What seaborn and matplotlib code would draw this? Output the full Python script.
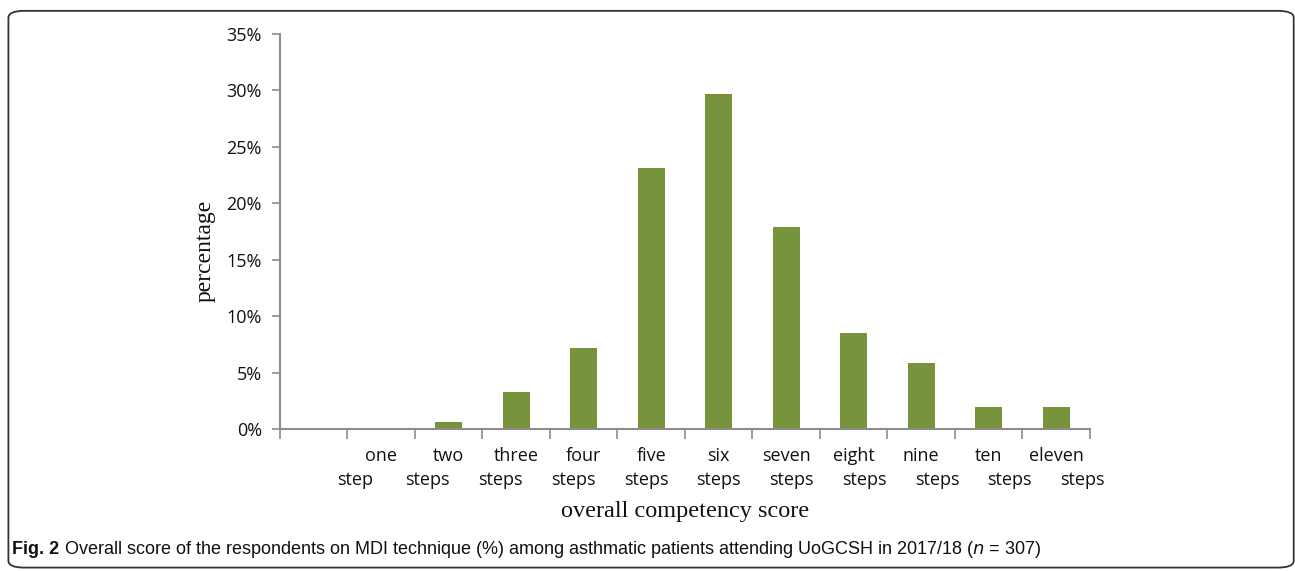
# MDI technique overall competency score

import numpy as np
import pandas as pd
import seaborn as sns
import matplotlib.pyplot as plt
from matplotlib.patches import FancyBboxPatch
import matplotlib.transforms as mtransforms

first_words = ['', 'one', 'two', 'three', 'four', 'five', 'six', 'seven', 'eight', 'nine', 'ten', 'eleven']
second_words = ['', 'step', 'steps', 'steps', 'steps', 'steps', 'steps', 'steps', 'steps', 'steps', 'steps', 'steps']
percent = [0.0, 0.0, 0.65, 3.26, 7.17, 23.13, 29.64, 17.92, 8.47, 5.86, 1.95, 1.95]
yticks = [0, 5, 10, 15, 20, 25, 30, 35]


def make_plot():
    sns.set_theme(style="white")
    plt.rcParams['font.family'] = ['Open Sans', 'DejaVu Sans']
    fig = plt.figure(figsize=(12.95, 5.71), dpi=100)
    ax = fig.add_axes([0.2162, 0.2487, 0.6255, 0.6918])

    cats = [(a + ' ' + b).strip() or ' ' for a, b in zip(first_words, second_words)]
    data = pd.DataFrame({'score': cats, 'pct': percent})
    sns.barplot(ax=ax, data=data, x='score', y='pct', order=cats, color='#77933C',
                saturation=1, width=0.4, linewidth=0)

    gray = '#8c8c8c'
    ax.set_xlim(-0.5, len(cats) - 0.5)
    ax.set_ylim(0, 35)
    ax.set_yticks(yticks)
    ax.set_yticklabels(['%d%%' % t for t in yticks])
    ax.set_xticks(np.arange(len(cats)))
    ax.set_xticklabels(first_words)
    ax.set_xticks(np.arange(len(cats) + 1) - 0.5, minor=True)
    ax.tick_params(axis='x', which='major', length=0, pad=13, labelsize=13, colors='#111111')
    ax.tick_params(axis='x', which='minor', bottom=True, length=7, width=1.2, color=gray, direction='out')
    ax.tick_params(axis='y', left=True, length=6, width=1.2, color=gray, direction='out',
                   pad=7, labelsize=13, labelcolor='#111111')

    for side in ['top', 'right']:
        ax.spines[side].set_visible(False)
    for side in ['left', 'bottom']:
        ax.spines[side].set_color(gray)
        ax.spines[side].set_linewidth(1.5)

    # second line of the category labels, drifting like the original
    trans = mtransforms.blended_transform_factory(ax.transData, ax.transAxes)
    for i, w in enumerate(second_words):
        if w:
            ax.text(i + (i - 6) * 0.078, -0.13, w, transform=trans, ha='center', va='center',
                    fontsize=13, color='#111111')

    ax.set_xlabel('overall competency score', family='Liberation Serif', fontsize=17.5,
                  labelpad=26, color='#111111')
    ax.set_ylabel('percentage', family='Liberation Serif', fontsize=17, labelpad=8,
                  color='#111111')
    ax.yaxis.set_label_coords(-0.08, 0.45)

    cap_font = ['Liberation Sans', 'DejaVu Sans']
    t1 = fig.text(0.0093, 0.038, 'Fig. 2', family=cap_font, fontweight='bold', fontsize=13,
                  va='center', color='#111111')
    fig.canvas.draw()
    bb = t1.get_window_extent().transformed(fig.transFigure.inverted())
    fig.text(bb.x1 + 0.004, 0.038, 'Overall score of the respondents on MDI technique (%) among asthmatic '
             'patients attending UoGCSH in 2017/18 ($\\it{n}$ = 307)',
             family=cap_font, fontsize=13, va='center', color='#111111')

    box = FancyBboxPatch((0.0065, 0.006), 0.9925, 0.975, boxstyle='round,pad=0,rounding_size=0.012',
                         transform=fig.transFigure, fill=False, edgecolor='#333333', linewidth=1.3)
    fig.patches.append(box)

    fig.savefig('out.png', dpi=100)


if __name__ == '__main__':
    make_plot()
